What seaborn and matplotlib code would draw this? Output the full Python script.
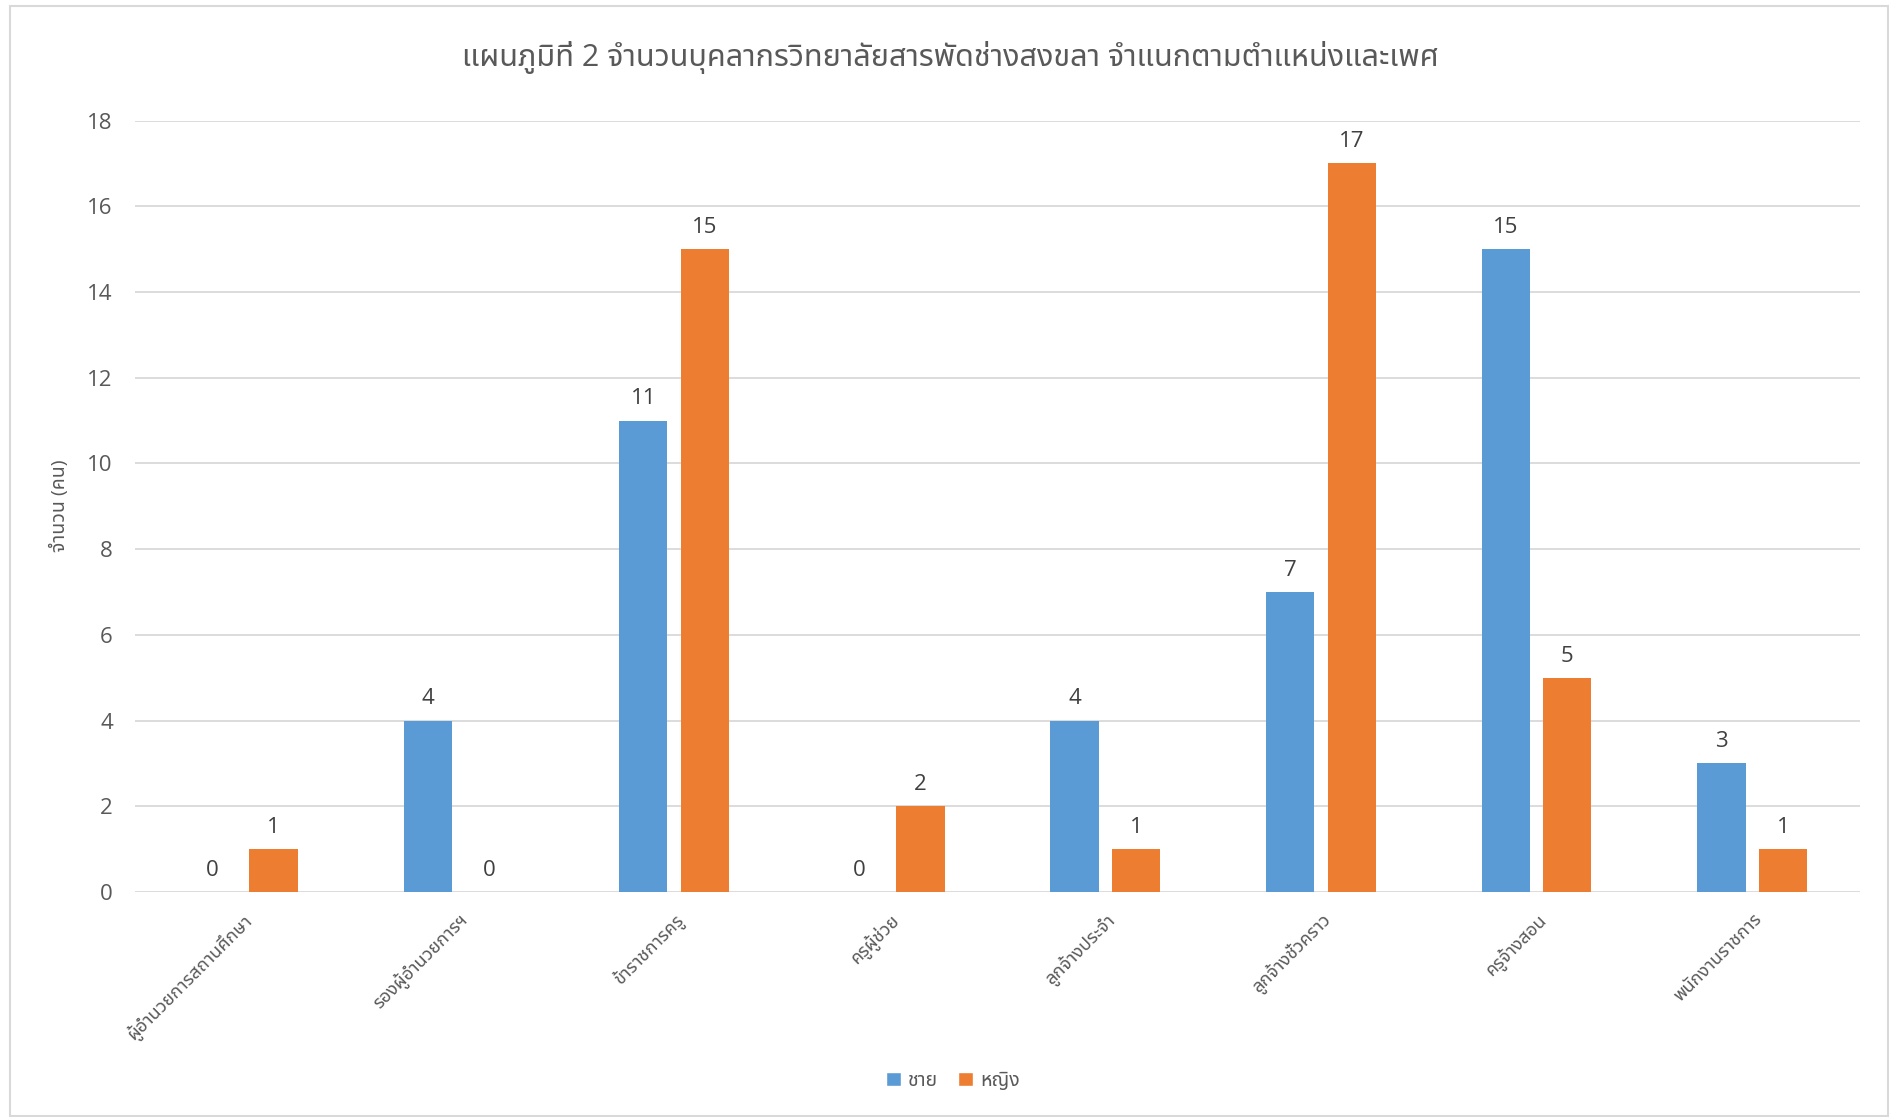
import matplotlib
matplotlib.use("Agg")
import matplotlib.pyplot as plt
from matplotlib import font_manager, ft2font
from matplotlib.patches import Rectangle, Patch
import seaborn as sns
import pandas as pd

# ---------------- data ----------------
categories = ["ผู้อำนวยการสถานศึกษา", "รองผู้อำนวยการฯ", "ข้าราชการครู", "ครูผู้ช่วย",
              "ลูกจ้างประจำ", "ลูกจ้างชั่วคราว", "ครูจ้างสอน", "พนักงานราชการ"]
male = [0, 4, 11, 0, 4, 7, 15, 3]
female = [1, 0, 15, 2, 1, 17, 5, 1]
series_names = ["ชาย", "หญิง"]
title_text = "แผนภูมิที่ 2 จำนวนบุคลากรวิทยาลัยสารพัดช่างสงขลา จำแนกตามตำแหน่งและเพศ"
ylabel_text = "จำนวน (คน)"
yticks = [0, 2, 4, 6, 8, 10, 12, 14, 16, 18]

BLUE = "#5B9BD5"
ORANGE = "#ED7D31"
GRID = "#D9D9D9"
TXT = "#595959"
LBL = "#404040"

# ---------------- find a font with Thai glyphs ----------------
def find_thai_fonts():
    found = []
    for f in font_manager.fontManager.ttflist:
        try:
            cm = ft2font.FT2Font(f.fname).get_charmap()
            if 0x0E01 in cm and 0x0E33 in cm and 0x0E49 in cm:
                if f.name not in found:
                    found.append(f.name)
        except Exception:
            pass
    return found

thai = find_thai_fonts()
pref = ["Leelawadee UI", "Leelawadee", "Noto Sans Thai", "Noto Sans Thai UI",
        "Noto Sans Thai Looped", "Loma", "Garuda", "Sarabun", "Tahoma"]
thai_sorted = [p for p in pref if p in thai] + [t for t in thai if t not in pref]

sns.set_style("white")
plt.rcParams["font.family"] = ["Open Sans"] + thai_sorted[:2] + ["DejaVu Sans"]

df = pd.DataFrame({
    "ตำแหน่ง": categories * 2,
    "จำนวน": male + female,
    "เพศ": [series_names[0]] * len(categories) + [series_names[1]] * len(categories),
})

fig = plt.figure(figsize=(18.9, 11.17), dpi=100)
ax = fig.add_axes([135 / 1890, 1 - 892 / 1117, (1860 - 135) / 1890, (892 - 120.5) / 1117])

sns.barplot(data=df, x="ตำแหน่ง", y="จำนวน", hue="เพศ", hue_order=series_names,
            order=categories, palette=[BLUE, ORANGE], width=0.57, gap=0.216,
            errorbar=None, linewidth=0, saturation=1, legend=False, ax=ax)

ax.set_xlim(-0.5, len(categories) - 0.5)
ax.set_ylim(0, 18)
ax.set_yticks(yticks)
ax.yaxis.grid(True, color=GRID, linewidth=1.3)
ax.set_axisbelow(True)
for s in ax.spines.values():
    s.set_visible(False)
ax.tick_params(axis="y", length=0, pad=16, labelsize=16, labelcolor=TXT)
ax.tick_params(axis="x", length=0, pad=13, labelsize=13, labelcolor=TXT)
ax.set_xticks(range(len(categories)))
ax.set_xticklabels(categories, rotation=45, ha="right", rotation_mode="anchor")
ax.set_xlabel("")
ax.set_ylabel(ylabel_text, fontsize=14, color=TXT, labelpad=13)

for cont in ax.containers:
    ax.bar_label(cont, fmt="%d", padding=8, fontsize=16, color=LBL)

fig.text(950 / 1890, 1 - 57 / 1117, title_text, ha="center", va="center",
         fontsize=22, color=TXT)

handles = [Patch(facecolor=BLUE), Patch(facecolor=ORANGE)]
fig.legend(handles, series_names, loc="center", bbox_to_anchor=(953 / 1890, 1 - 1081 / 1117),
           ncol=2, frameon=False, fontsize=14, handlelength=0.75, handleheight=0.75,
           handletextpad=0.4, columnspacing=1.0, labelcolor=TXT)

fig.patches.append(Rectangle((10 / 1890, 0.001), (1888 - 10) / 1890, 1 - 6 / 1117 - 0.001,
                             transform=fig.transFigure, fill=False, edgecolor=GRID,
                             linewidth=1.5, zorder=0))

fig.savefig("out.png", dpi=100, facecolor="white")
